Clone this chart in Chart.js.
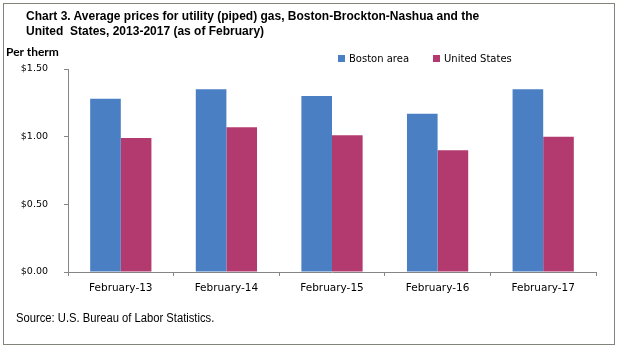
<!DOCTYPE html>
<html>
<head>
<meta charset="utf-8">
<script src="https://cdn.jsdelivr.net/npm/chart.js@4.4.1/dist/chart.umd.min.js"></script>
<style>
  body { margin: 0; background: #fff; }
  #wrap { position: relative; width: 628px; height: 349px; }
  #frame { position: absolute; left: 3px; top: 3px; width: 610px; height: 340px; border: 1px solid #80857c; }
  canvas { position: absolute; left: 0; top: 0; }
  .txt { position: absolute; white-space: nowrap; color: #000; transform-origin: 0 0; }
  #title { left: 26px; top: 9px; font: bold 12.5px "Liberation Sans", sans-serif; line-height: 15px; transform: scaleX(0.96); }
  #unit { left: 6px; top: 44px; font: bold 12px Lato, sans-serif; }
  #source { left: 16px; top: 311px; font: 12px "Liberation Sans", sans-serif; transform: scaleX(0.935); }
  #legend { left: 338px; top: 53px; font: 10px "DejaVu Sans", sans-serif; }
  #legend span { display: inline-block; margin-right: 24px; }
  #legend i { display: inline-block; width: 7px; height: 7px; margin-right: 4px; vertical-align: 0px; }
</style>
</head>
<body>
<div id="wrap">
  <div id="frame"></div>
  <canvas id="chart" width="628" height="349"></canvas>
  <div class="txt" id="title">Chart 3. Average prices for utility (piped) gas, Boston-Brockton-Nashua and the<br>United&nbsp; States, 2013-2017 (as of February)</div>
  <div class="txt" id="unit">Per therm</div>
  <div class="txt" id="legend"></div>
  <div class="txt" id="source">Source: U.S. Bureau of Labor Statistics.</div>
</div>
<script>
const months = ['February-13', 'February-14', 'February-15', 'February-16', 'February-17'];
const boston = [1.28, 1.35, 1.30, 1.17, 1.35];
const usa = [0.99, 1.07, 1.01, 0.90, 1.00];
const seriesNames = ['Boston area', 'United States'];
const seriesColors = ['#4a7fc4', '#b33a6f'];

const axisColor = '#868686';

const ctx = document.getElementById('chart').getContext('2d');
const myChart = new Chart(ctx, {
    type: 'bar',
    data: {
        labels: months,
        datasets: [
            { label: seriesNames[0], data: boston, backgroundColor: seriesColors[0] },
            { label: seriesNames[1], data: usa, backgroundColor: seriesColors[1] },
        ],
    },
    options: {
        responsive: false,
        animation: false,
        layout: { padding: { left: 0, right: 32, top: 69, bottom: 47 } },
        datasets: { bar: { categoryPercentage: 0.58, barPercentage: 1.0 } },
        plugins: {
            legend: { display: false },
            tooltip: { enabled: false },
        },
        scales: {
            x: {
                grid: { drawOnChartArea: false, color: axisColor, tickLength: 4, offset: true },
                border: { color: axisColor },
                ticks: { color: '#000', font: { family: 'DejaVu Sans', size: 10.5 }, padding: 6, maxRotation: 0 },
                afterFit: (scale) => { scale.height = 30; },
            },
            y: {
                min: 0,
                max: 1.5,
                grid: { drawOnChartArea: false, color: axisColor, tickLength: 4 },
                border: { color: axisColor },
                ticks: {
                    stepSize: 0.5,
                    color: '#000',
                    padding: 16,
                    font: { family: 'DejaVu Sans', size: 9.5 },
                    callback: (v) => '$' + Number(v).toFixed(2),
                },
                afterFit: (scale) => { scale.width = 68; },
            },
        },
    },
});

// legend built from the dataset names and colours
const legendEl = document.getElementById('legend');
myChart.data.datasets.forEach((ds) => {
    const item = document.createElement('span');
    item.innerHTML = '<i style="background:' + ds.backgroundColor + '"></i>' + ds.label;
    legendEl.appendChild(item);
});
</script>
</body>
</html>
